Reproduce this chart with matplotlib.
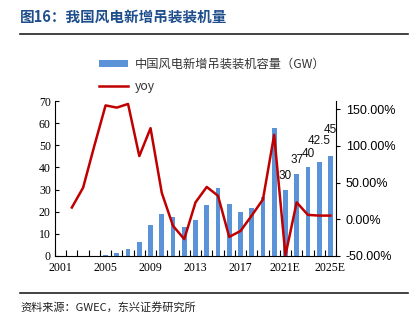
import numpy as np
import matplotlib
matplotlib.use("Agg")
import matplotlib.pyplot as plt
from matplotlib.lines import Line2D
from matplotlib.patches import Patch

plt.rcParams['font.family'] = ['Noto Sans CJK SC', 'DejaVu Sans']

# ── data ───────────────────────────────────────────────────────────────────
years = ["2001", "2002", "2003", "2004", "2005", "2006", "2007", "2008", "2009",
         "2010", "2011", "2012", "2013", "2014", "2015", "2016", "2017", "2018",
         "2019", "2020", "2021E", "2022E", "2023E", "2024E", "2025E"]
capacity = [0.04, 0.07, 0.1, 0.2, 0.5, 1.3, 3.3, 6.2, 13.8,
            18.9, 17.6, 13.0, 16.1, 23.2, 30.8, 23.4, 19.7, 21.5,
            26.8, 57.8, 30, 37, 40, 42.5, 45]
yoy = [np.nan, 0.16, 0.43, 1.00, 1.55, 1.52, 1.57, 0.86, 1.24,
       0.36, -0.09, -0.27, 0.23, 0.44, 0.32, -0.24, -0.16, 0.05,
       0.27, 1.15, -0.49, 0.23, 0.06, 0.05, 0.05]
label_years = ["2021E", "2022E", "2023E", "2024E", "2025E"]
label_texts = ["30", "37", "40", "42.5", "45"]

BAR_COLOR = "#5B93D9"
LINE_COLOR = "#C00000"
TITLE_COLOR = "#1F4E8C"

fig = plt.figure(figsize=(4.16, 3.30), dpi=100)

# ── title, rules, source ───────────────────────────────────────────────────
fig.text(20 / 416, 1 - 17 / 330, "图16：我国风电新增吊装装机量", fontsize=10.5,
         fontweight="bold", color=TITLE_COLOR, va="center", ha="left")
fig.add_artist(Line2D([20 / 416, 408 / 416], [1 - 34 / 330, 1 - 34 / 330],
                      color="#222222", linewidth=1.2))
fig.add_artist(Line2D([20 / 416, 408 / 416], [1 - 293 / 330, 1 - 293 / 330],
                      color="#222222", linewidth=1.2))
fig.text(20 / 416, 1 - 307 / 330, "资料来源：GWEC，东兴证券研究所", fontsize=8,
         style="italic", color="#222222", va="center", ha="left")

# ── axes ───────────────────────────────────────────────────────────────────
ax = fig.add_axes([55 / 416, 74 / 330, 281 / 416, 155 / 330])
x = np.arange(len(years))
ax.bar(x, capacity, width=0.42, color=BAR_COLOR, zorder=2)
ax.set_xlim(-0.5, len(years) - 0.5)
ax.set_ylim(0, 70)
ax.set_yticks(range(0, 71, 10))
ax.set_xticks(x[::4])
ax.set_xticklabels(years[::4], family="Liberation Serif", fontsize=8.5)
ax.set_xticks(np.arange(-0.5, len(years), 1), minor=True)
ax.tick_params(axis="x", which="major", length=0, pad=4)
ax.tick_params(axis="x", which="minor", direction="in", length=4, width=0.8)
ax.tick_params(axis="y", direction="in", length=3, width=0.8, pad=3)
for lab in ax.get_yticklabels():
    lab.set_family("Liberation Serif")
    lab.set_fontsize(8.5)
ax.spines["top"].set_visible(False)
ax.spines["right"].set_visible(False)
ax.spines["left"].set_linewidth(0.8)
ax.spines["bottom"].set_linewidth(0.8)

offsets = [10, 10, 10, 15, 19]
for yr, txt, off in zip(label_years, label_texts, offsets):
    i = years.index(yr)
    ax.annotate(txt, (i, capacity[i]), xytext=(0, off), textcoords="offset points",
                ha="center", va="center", fontsize=8.5, family="Liberation Sans",
                color="#111111", zorder=5)

ax2 = ax.twinx()
ax2.plot(x, yoy, color=LINE_COLOR, linewidth=1.8, zorder=3)
ax2.set_ylim(-0.5, 1.61)
ax2.set_yticks([-0.5, 0, 0.5, 1.0, 1.5])
ax2.set_yticklabels(["-50.00%", "0.00%", "50.00%", "100.00%", "150.00%"],
                    family="Liberation Sans", fontsize=9)
ax2.tick_params(axis="y", direction="out", length=3, width=0.8, pad=4)
ax2.spines["top"].set_visible(False)
ax2.spines["left"].set_visible(False)
ax2.spines["bottom"].set_visible(False)
ax2.spines["right"].set_linewidth(0.8)

# ── legend ─────────────────────────────────────────────────────────────────
handles = [Patch(facecolor=BAR_COLOR, edgecolor="none"),
           Line2D([0], [0], color=LINE_COLOR, linewidth=1.8)]
fig.legend(handles, ["中国风电新增吊装装机容量（GW）", "yoy"],
           loc="upper left", bbox_to_anchor=(88 / 416, 1 - 47 / 330),
           frameon=False, fontsize=8.8, handlelength=2.4, handleheight=0.5,
           labelspacing=0.7, handletextpad=0.5, labelcolor="#333333")

fig.savefig("out.png", dpi=100)
